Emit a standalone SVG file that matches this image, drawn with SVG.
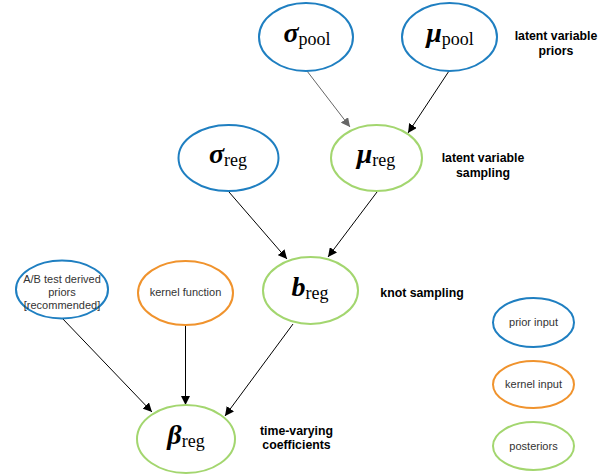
<svg xmlns="http://www.w3.org/2000/svg" width="612" height="476" viewBox="0 0 612 476">
<defs>
<marker id="ah" viewBox="0 0 10 10" refX="10" refY="5" markerWidth="9" markerHeight="9" markerUnits="userSpaceOnUse" orient="auto"><path d="M0,0 L10,5 L0,10 z" fill="#000"/></marker>
<marker id="ahg" viewBox="0 0 10 10" refX="10" refY="5" markerWidth="9" markerHeight="9" markerUnits="userSpaceOnUse" orient="auto"><path d="M0,0 L10,5 L0,10 z" fill="#666"/></marker>
</defs>
<style>
.blue{fill:#fff;stroke:#1f7fc1;stroke-width:2}
.orange{fill:#fff;stroke:#f0932d;stroke-width:2}
.green{fill:#fff;stroke:#a3d66f;stroke-width:2}
.math{font-family:"Liberation Serif",serif;fill:#000}
.g{font-style:italic;font-weight:bold;font-size:28px}
.sub{font-size:18px}
.lbl{font-family:"Liberation Sans",Arial,sans-serif;font-size:11px;fill:#333;text-anchor:middle}
.ann{font-family:"Liberation Sans",Arial,sans-serif;font-size:12.3px;font-weight:bold;fill:#000;text-anchor:middle}
.e{stroke:#000;stroke-width:1;fill:none;marker-end:url(#ah)}
.eg{stroke:#666;stroke-width:1;fill:none;marker-end:url(#ahg)}
</style>
<rect width="612" height="476" fill="#fff"/>
<g id="connectors">
<line class="eg" x1="307" y1="71" x2="350" y2="127"/>
<line class="e" x1="449" y1="71" x2="408" y2="133"/>
<line class="e" x1="229" y1="192" x2="287" y2="259"/>
<line class="e" x1="377" y1="192" x2="328" y2="257"/>
<line class="e" x1="62" y1="318" x2="152" y2="412"/>
<line class="e" x1="185.5" y1="325" x2="185.5" y2="405"/>
<line class="e" x1="293" y1="324" x2="225" y2="416"/>
</g>
<g id="sigma_pool">
<ellipse class="blue" cx="306" cy="37" rx="47" ry="34"/>
<text class="math" x="307" y="42" text-anchor="middle"><tspan class="g">σ</tspan><tspan class="sub" dy="3">pool</tspan></text>
</g>
<g id="mu_pool">
<ellipse class="blue" cx="449.5" cy="37" rx="47.5" ry="34"/>
<text class="math" x="450" y="42" text-anchor="middle"><tspan class="g">μ</tspan><tspan class="sub" dy="3">pool</tspan></text>
</g>
<g id="sigma_reg">
<ellipse class="blue" cx="228.5" cy="158" rx="50" ry="33"/>
<text class="math" x="228" y="163" text-anchor="middle"><tspan class="g">σ</tspan><tspan class="sub" dy="3">reg</tspan></text>
</g>
<g id="mu_reg">
<ellipse class="green" cx="376.5" cy="158" rx="45.5" ry="33"/>
<text class="math" x="376" y="163" text-anchor="middle"><tspan class="g">μ</tspan><tspan class="sub" dy="3">reg</tspan></text>
</g>
<g id="ab_prior">
<ellipse class="blue" cx="62" cy="289.5" rx="46" ry="29"/>
<text class="lbl" x="62" y="283">A/B test derived</text>
<text class="lbl" x="62" y="296">priors</text>
<text class="lbl" x="62" y="309">[recommended]</text>
</g>
<g id="kernel_function">
<ellipse class="orange" cx="185.5" cy="293" rx="47.5" ry="32"/>
<text class="lbl" x="185.5" y="296">kernel function</text>
</g>
<g id="b_reg">
<ellipse class="green" cx="310.5" cy="290.5" rx="47.5" ry="33.5"/>
<text class="math" x="310" y="296" text-anchor="middle"><tspan class="g">b</tspan><tspan class="sub" dy="3">reg</tspan></text>
</g>
<g id="beta_reg">
<ellipse class="green" cx="186" cy="439" rx="49" ry="34"/>
<text class="math" x="186" y="444" text-anchor="middle"><tspan class="g">β</tspan><tspan class="sub" dy="3">reg</tspan></text>
</g>
<g id="annotations">
<text class="ann" x="556" y="40">latent variable</text>
<text class="ann" x="556" y="55">priors</text>
<text class="ann" x="483" y="162">latent variable</text>
<text class="ann" x="483" y="177">sampling</text>
<text class="ann" x="422" y="297">knot sampling</text>
<text class="ann" x="296.5" y="435">time-varying</text>
<text class="ann" x="296.5" y="449">coefficients</text>
</g>
<g id="legend_prior">
<ellipse class="blue" cx="533.5" cy="322.5" rx="40.5" ry="24.5"/>
<text class="lbl" x="533.5" y="326">prior input</text>
</g>
<g id="legend_kernel">
<ellipse class="orange" cx="533.5" cy="384.5" rx="40.5" ry="23.5"/>
<text class="lbl" x="533.5" y="388">kernel input</text>
</g>
<g id="legend_post">
<ellipse class="green" cx="533.5" cy="446" rx="40.5" ry="24"/>
<text class="lbl" x="533.5" y="449.5">posteriors</text>
</g>
</svg>
